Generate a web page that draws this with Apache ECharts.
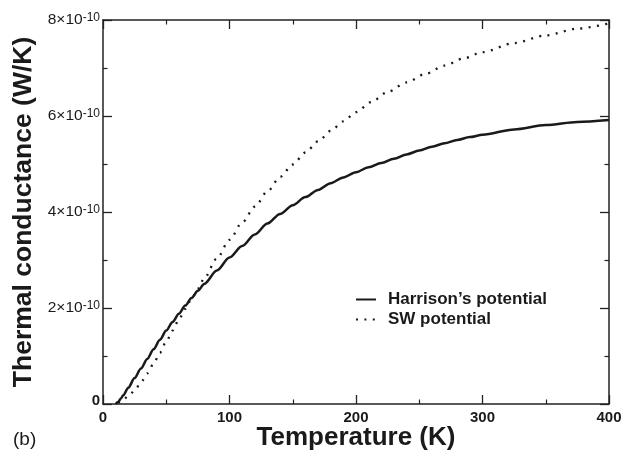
<!DOCTYPE html>
<html>
<head>
<meta charset="utf-8">
<script src="https://cdn.jsdelivr.net/npm/echarts@6/dist/echarts.min.js"></script>
<style>html,body{margin:0;padding:0;background:#fff;}#c{width:631px;height:451px;}</style>
</head>
<body>
<div id="c"></div>
<script>
// Temperature (K) and thermal conductance (units of 1e-10 W/K)
const harrisonT = [10, 12, 14, 16, 20, 25, 30, 35, 40, 45, 50, 55, 60, 65, 70, 75, 80, 90, 100, 110, 120, 130, 140, 150, 160, 170, 180, 190, 200, 210, 220, 230, 240, 250, 260, 270, 280, 290, 300, 325, 350, 375, 400];
const harrisonK = [0.0, 0.04, 0.11, 0.18, 0.34, 0.54, 0.74, 0.94, 1.14, 1.34, 1.53, 1.71, 1.88, 2.05, 2.21, 2.36, 2.50, 2.78, 3.05, 3.29, 3.53, 3.76, 3.96, 4.14, 4.31, 4.46, 4.60, 4.72, 4.83, 4.93, 5.02, 5.11, 5.20, 5.28, 5.36, 5.43, 5.50, 5.56, 5.61, 5.72, 5.81, 5.875, 5.915];
const swT = [12, 15, 20, 25, 30, 35, 40, 45, 50, 55, 60, 65, 70, 75, 80, 90, 100, 110, 120, 130, 140, 150, 160, 170, 180, 190, 200, 212, 225, 240, 255, 270, 285, 300, 325, 350, 375, 400];
const swK = [0.02, 0.07, 0.16, 0.28, 0.45, 0.64, 0.84, 1.07, 1.30, 1.53, 1.76, 1.98, 2.19, 2.40, 2.62, 3.03, 3.42, 3.78, 4.11, 4.43, 4.73, 4.99, 5.24, 5.47, 5.69, 5.89, 6.08, 6.29, 6.50, 6.70, 6.88, 7.05, 7.20, 7.33, 7.52, 7.68, 7.82, 7.93];
const xTicks = [0, 100, 200, 300, 400];
const yTicks = [0, 2, 4, 6, 8];
const seriesNames = ['Harrison\u2019s potential', 'SW potential'];
const xTitle = 'Temperature (K)';
const yTitle = 'Thermal conductance (W/K)';
const panelLabel = '(b)';

const FONT = 'Liberation Sans, Arial, Helvetica, sans-serif';
const INK = '#1a1a1a';

function pairs(xs, ys) { return xs.map((x, i) => [x, ys[i]]); }

const axisLine = { show: true, onZero: false, lineStyle: { color: '#222', width: 1.5 } };
const chart = echarts.init(document.getElementById('c'), null, { renderer: 'canvas' });

const tick = { show: true, inside: true, length: 9, lineStyle: { color: '#222', width: 1.3 } };
const minor = { show: true, splitNumber: 2, length: 4.5, lineStyle: { color: '#222', width: 1.2 } };
const baseX = {
  type: 'value', min: xTicks[0], max: xTicks[xTicks.length - 1], interval: 100,
  axisLine: axisLine, splitLine: { show: false }, minorSplitLine: { show: false },
  axisTick: tick, minorTick: minor
};
const baseY = {
  type: 'value', min: yTicks[0], max: yTicks[yTicks.length - 1], interval: 2,
  axisLine: axisLine, splitLine: { show: false }, minorSplitLine: { show: false },
  axisTick: tick, minorTick: minor
};

chart.setOption({
  animation: false,
  backgroundColor: '#fff',
  textStyle: { fontFamily: FONT },
  grid: { left: 103, right: 22, top: 20, bottom: 47, containLabel: false, outerBoundsMode: 'none' },
  xAxis: [
    Object.assign({}, baseX, {
      position: 'bottom',
      name: xTitle, nameLocation: 'middle', nameGap: 21, nameMoveOverlap: false,
      nameTextStyle: { fontSize: 26, fontWeight: 'bold', color: INK, fontFamily: FONT },
      axisLabel: {
        margin: 6, fontSize: 15, fontWeight: 'bold', color: INK, fontFamily: FONT,
        formatter: v => (xTicks.indexOf(v) >= 0 ? String(v) : '')
      }
    }),
    Object.assign({}, baseX, { position: 'top', axisLabel: { show: false } })
  ],
  yAxis: [
    Object.assign({}, baseY, {
      position: 'left',
      name: yTitle, nameLocation: 'middle', nameGap: 59, nameRotate: 90,
      nameTextStyle: { fontSize: 26.5, fontWeight: 'bold', color: INK, fontFamily: FONT },
      axisLabel: {
        margin: 3, color: INK, fontFamily: FONT,
        formatter: v => (v === 0 ? '{z|0}' : '{a|' + v + '\u00d710}{b|-10}'),
        rich: {
          z: { fontSize: 15, fontWeight: 'bold', color: INK, fontFamily: FONT, padding: [0, 0, 6, 0] },
          a: { fontSize: 15.5, lineHeight: 16, color: INK, fontFamily: FONT, verticalAlign: 'bottom' },
          b: { fontSize: 12, lineHeight: 12, color: INK, fontFamily: FONT, verticalAlign: 'top', padding: [0, 0, 13, 0] }
        }
      }
    }),
    Object.assign({}, baseY, { position: 'right', axisLabel: { show: false } })
  ],
  legend: {
    orient: 'vertical', left: 350, top: 286,
    itemWidth: 20, itemHeight: 14, itemGap: 3,
    itemStyle: { opacity: 0, borderWidth: 0 },
    textStyle: { fontSize: 17, fontWeight: 'bold', color: INK, fontFamily: FONT, padding: [0, 0, 0, 7], lineHeight: 17 },
    data: seriesNames
  },
  series: [
    {
      name: seriesNames[0], type: 'line', xAxisIndex: 0, yAxisIndex: 0,
      data: pairs(harrisonT, harrisonK), symbol: 'none', showSymbol: false, smooth: 0.3, smoothMonotone: 'x',
      lineStyle: { color: INK, width: 2.5, type: 'solid' }, itemStyle: { color: INK }
    },
    {
      name: seriesNames[1], type: 'line', xAxisIndex: 0, yAxisIndex: 0,
      data: pairs(swT, swK), symbol: 'none', showSymbol: false, smooth: 0.3, smoothMonotone: 'x',
      lineStyle: { color: INK, width: 2.3, type: [2, 6.4], cap: 'butt' }, itemStyle: { color: INK }
    }
  ],
  graphic: [
    { type: 'text', left: 13, top: 430, style: { text: panelLabel, fontSize: 19, fontFamily: FONT, fill: INK } }
  ]
});
</script>
</body>
</html>
